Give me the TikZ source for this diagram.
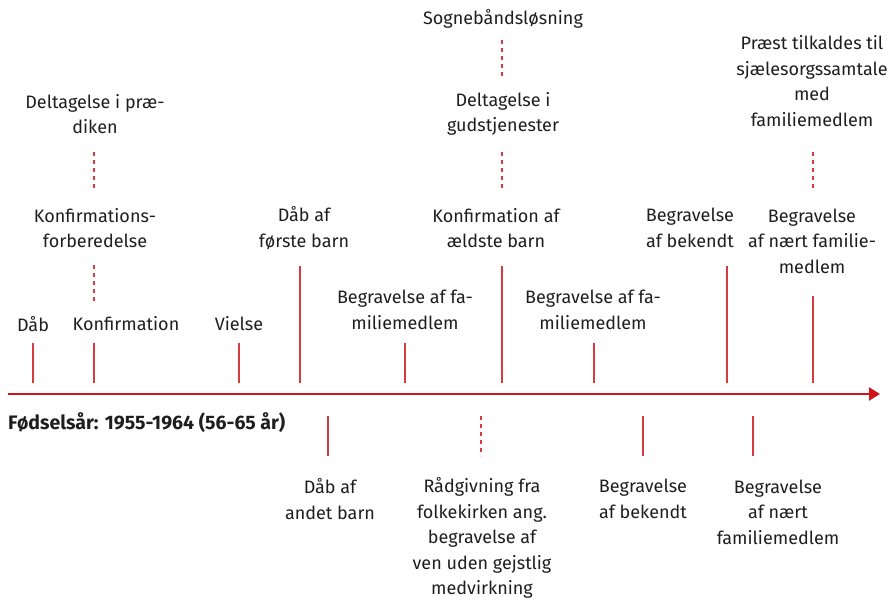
\documentclass[tikz,border=0pt]{standalone}
\usepackage{fontspec}
\setmainfont{Fira Sans}
\usetikzlibrary{arrows.meta}
\definecolor{axisred}{HTML}{D0121B}
\definecolor{tickred}{HTML}{D93A40}
\definecolor{txt}{HTML}{1E1E1E}
\begin{document}
\begin{tikzpicture}[x=1pt,y=-1pt,
  lbl/.style={align=center,inner sep=0pt,text=txt,font=\fontsize{18}{25.6}\selectfont,anchor=center},
  tick/.style={draw=tickred,line width=1.3pt},
  dtick/.style={draw=tickred,line width=1.3pt,dash pattern=on 4pt off 4pt},
  axis/.style={draw=axisred,line width=2.2pt,-{Triangle[length=11pt,width=13pt]}}]
\useasboundingbox (0,0) rectangle (894,601);
% axis
\coordinate (a0) at (8,394);
\coordinate (a1) at (880,394);
\draw[axis] (a0) -- (a1);
% labels above
\node[lbl] (dab) at (33,324) {Dåb};
\node[lbl] (konf) at (126,324) {Konfirmation};
\node[lbl] (vielse) at (239,324) {Vielse};
\node[lbl] (dab1) at (304,228) {Dåb af\\første barn};
\node[lbl] (begr1) at (405,310) {Begravelse af fa-\\miliemedlem};
\node[lbl] (konfald) at (496,228) {Konfirmation af\\ældste barn};
\node[lbl] (begr2) at (593,310) {Begravelse af fa-\\miliemedlem};
\node[lbl] (begrbek) at (690,228) {Begravelse\\af bekendt};
\node[lbl] (begrnaert) at (812,241) {Begravelse\\af nært familie-\\medlem};
\node[lbl] (konfforb) at (95,228) {Konfirmations-\\forberedelse};
\node[lbl] (deltpr) at (95,114) {Deltagelse i præ-\\diken};
\node[lbl] (deltgud) at (503,114) {Deltagelse i\\gudstjenester};
\node[lbl] (sogn) at (503,19) {Sognebåndsløsning};
\node[lbl] (praest) at (812,81) {Præst tilkaldes til\\sjælesorgssamtale\\med\\familiemedlem};
% below
\node[anchor=west,inner sep=0pt,text=txt,font=\fontsize{19.5}{20}\selectfont\bfseries] (fodsel) at (8,423) {Fødselsår: 1955-1964 (56-65 år)};
\node[lbl] (dab2) at (330,499) {Dåb af\\andet barn};
\node[lbl] (raad) at (482,538) {Rådgivning fra\\folkekirken ang.\\begravelse af\\ven uden gejstlig\\medvirkning};
\node[lbl] (begrbek2) at (643,499) {Begravelse\\af bekendt};
\node[lbl] (begrnaert2) at (778,512) {Begravelse\\af nært\\familiemedlem};
% tick coordinates
\foreach \n/\x/\ya in {t1/33/343,t2/94/343,t3/239/343,t4/300/266,t5/405/343,t6/502/266,t7/594/343,t8/727/266,t9/813/296}{
  \coordinate (\n a) at (\x,\ya);
  \coordinate (\n b) at (\x,383);
}
\foreach \n in {t1,t2,t3,t4,t5,t6,t7,t8,t9}{\draw[tick] (\n a) -- (\n b);}
\foreach \n/\x in {b1/328,b3/643,b4/753}{
  \coordinate (\n a) at (\x,416);
  \coordinate (\n b) at (\x,456);
  \draw[tick] (\n a) -- (\n b);
}
\coordinate (b2a) at (481,416);
\coordinate (b2b) at (481,456);
\draw[dtick] (b2a) -- (b2b);
% dashed connectors
\coordinate (d1a) at (94,265); \coordinate (d1b) at (94,303);
\coordinate (d2a) at (94,152); \coordinate (d2b) at (94,190);
\coordinate (d3a) at (502,152); \coordinate (d3b) at (502,190);
\coordinate (d4a) at (502,40); \coordinate (d4b) at (502,78);
\coordinate (d5a) at (813,152); \coordinate (d5b) at (813,190);
\foreach \n in {d1,d2,d3,d4,d5}{\draw[dtick] (\n a) -- (\n b);}
\end{tikzpicture}
\end{document}
